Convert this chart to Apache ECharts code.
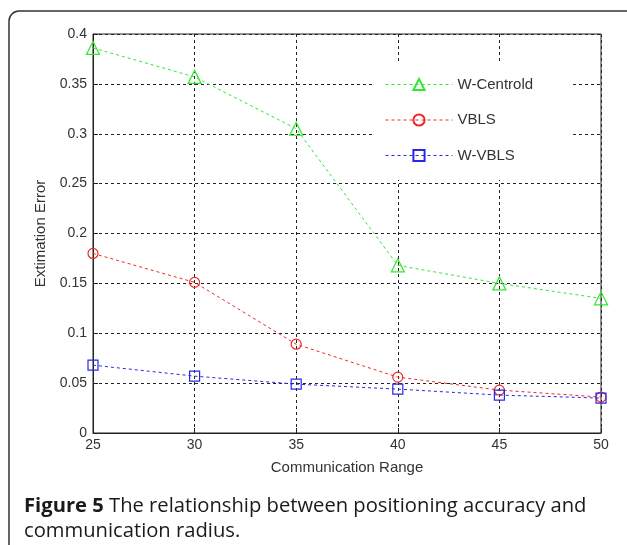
<!DOCTYPE html>
<html>
<head>
<meta charset="utf-8">
<script src="https://cdn.jsdelivr.net/npm/echarts@6/dist/echarts.min.js"></script>
<style>html,body{margin:0;padding:0;background:#fff}#c{width:627px;height:545px}</style>
</head>
<body>
<div id="c"></div>
<script>
const ranges = [25, 30, 35, 40, 45, 50];
const wCentroid = [0.386, 0.357, 0.305, 0.168, 0.150, 0.135];
const vbls = [0.180, 0.151, 0.089, 0.056, 0.043, 0.036];
const wVbls = [0.068, 0.057, 0.049, 0.044, 0.038, 0.035];
const seriesNames = ['W-Centrold', 'VBLS', 'W-VBLS'];
const xTitle = 'Communication Range';
const yTitle = 'Extimation Error';
const captionBold = 'Figure 5';
const captionLine1 = ' The relationship between positioning accuracy and';
const captionLine2 = 'communication radius.';

const pairs = arr => ranges.map((r, i) => [r, arr[i]]);
const colors = ['#33e633', '#f02828', '#2828e6'];
const symbols = ['triangle', 'circle', 'rect'];
const sizes = [13, 10, 10];
const datasets = [wCentroid, vbls, wVbls];

const chart = echarts.init(document.getElementById('c'));
chart.setOption({
  animation: false,
  backgroundColor: '#fff',
  textStyle: { fontFamily: 'Liberation Sans, Arial, sans-serif' },
  grid: { left: 93, right: 26, top: 34, bottom: 112, show: true, borderColor: '#222', borderWidth: 1 },
  xAxis: {
    type: 'value', min: 25, max: 50, interval: 5,
    name: xTitle, nameLocation: 'middle', nameGap: 27,
    nameTextStyle: { fontSize: 15, color: '#333' },
    axisLine: { show: true, lineStyle: { color: '#222' } },
    axisTick: { show: true, inside: true, length: 5, lineStyle: { color: '#222' } },
    axisLabel: { fontSize: 14, color: '#333', margin: 5 },
    splitLine: { show: true, lineStyle: { color: '#222', type: [3, 3], width: 1 } }
  },
  yAxis: {
    type: 'value', min: 0, max: 0.4, interval: 0.05,
    name: yTitle, nameLocation: 'middle', nameGap: 41,
    nameTextStyle: { fontSize: 15, color: '#333' },
    axisLine: { show: true, lineStyle: { color: '#222' } },
    axisTick: { show: true, inside: true, length: 5, lineStyle: { color: '#222' } },
    axisLabel: { fontSize: 14, color: '#333', margin: 6, formatter: v => String(+v.toFixed(2)) },
    splitLine: { show: true, lineStyle: { color: '#222', type: [3, 3], width: 1 } }
  },
  legend: {
    orient: 'vertical', left: 372, top: 63,
    padding: [14, 40, 17, 13],
    itemWidth: 67, itemHeight: 14, itemGap: 20.5,
    backgroundColor: '#fff', borderWidth: 0,
    lineStyle: { width: 1, type: [3, 3] },
    textStyle: { fontSize: 15, color: '#333' },
    data: seriesNames
  },
  series: datasets.map((d, i) => ({
    name: seriesNames[i], type: 'line', data: pairs(d),
    symbol: symbols[i], symbolSize: sizes[i],
    color: colors[i],
    lineStyle: { color: colors[i], width: 1, type: [3, 3] },
    itemStyle: { color: 'rgba(255,255,255,0)', borderColor: colors[i], borderWidth: 1.2 },
    z: 3 + i
  })),
  graphic: [
    { type: 'rect', shape: { x: 9, y: 11, width: 640, height: 560, r: 10 },
      style: { fill: 'none', stroke: '#333', lineWidth: 1.5 }, silent: true },
    { type: 'text', left: 24, top: 496,
      style: { rich: { b: { fontWeight: 'bold', fontSize: 20.2, fontFamily: 'Open Sans', fill: '#1a1a1a' },
                       n: { fontSize: 20.2, fontFamily: 'Open Sans', fill: '#1a1a1a' } },
               text: '{b|' + captionBold + '}{n|' + captionLine1 + '}' } },
    { type: 'text', left: 24, top: 521,
      style: { text: captionLine2, fontSize: 20.2, fontFamily: 'Open Sans', fill: '#1a1a1a' } }
  ]
});
</script>
</body>
</html>
